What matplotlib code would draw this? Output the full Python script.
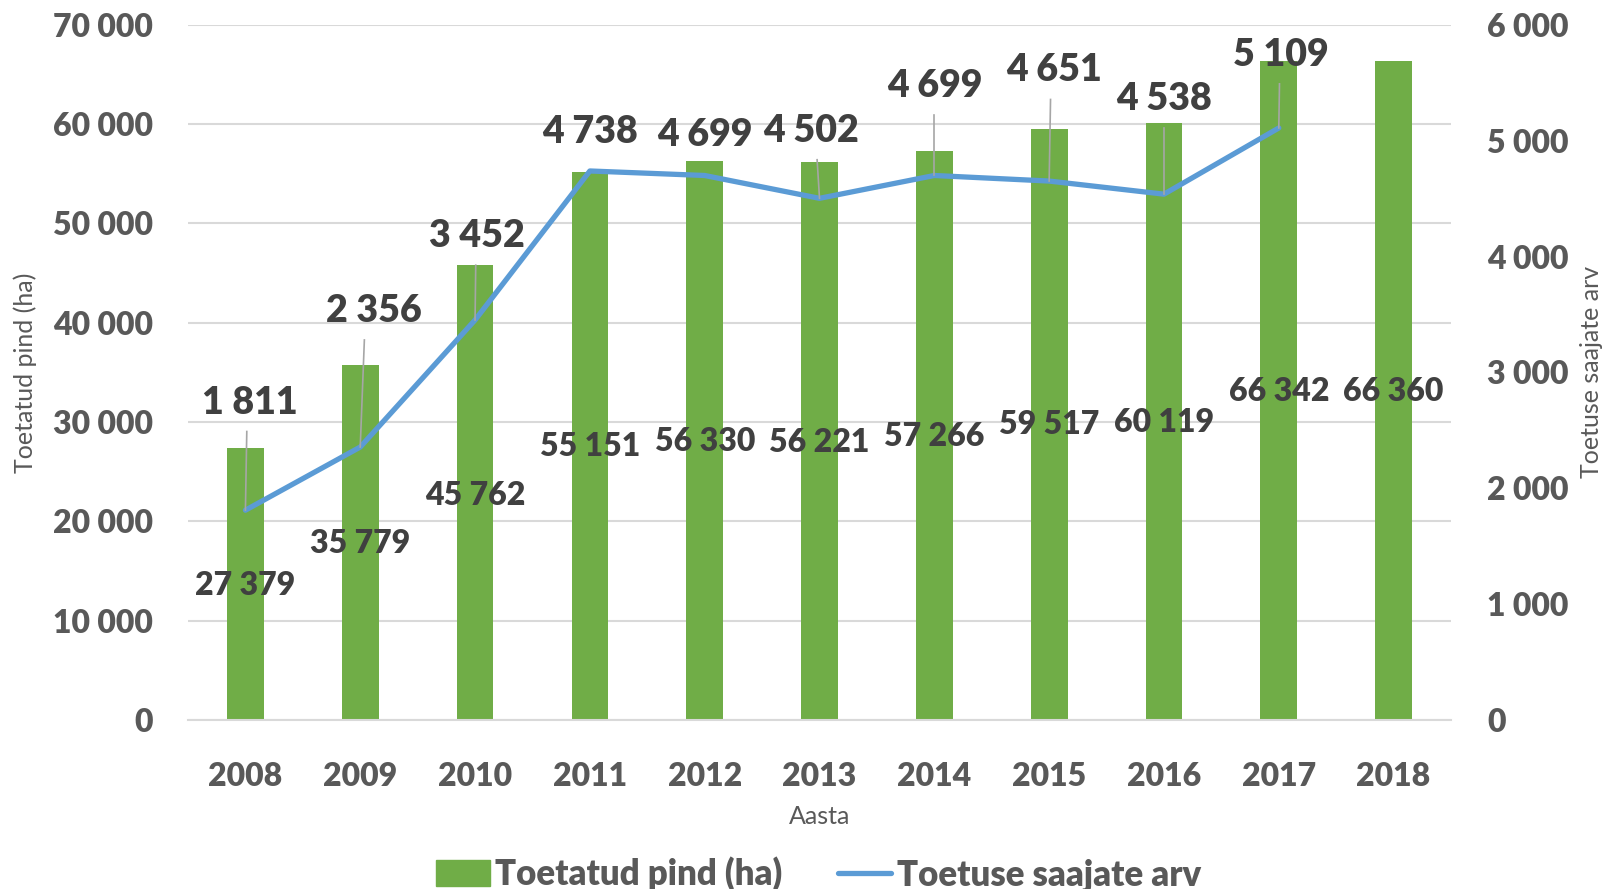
import numpy as np
import matplotlib
matplotlib.use("Agg")
import matplotlib.pyplot as plt
import matplotlib.ticker as mticker
from matplotlib.patches import Patch
from matplotlib.lines import Line2D

plt.rcParams['font.family'] = ['Lato', 'DejaVu Sans']

years = ['2008', '2009', '2010', '2011', '2012', '2013', '2014', '2015', '2016', '2017', '2018']
area = [27379, 35779, 45762, 55151, 56330, 56221, 57266, 59517, 60119, 66342, 66360]
recipients = [1811, 2356, 3452, 4738, 4699, 4502, 4699, 4651, 4538, 5109]

# where Excel put the labels (bar labels in ha, line labels in recipients)
bar_label_y = [13550, 17800, 22650, 27500, 28000, 27900, 28550, 29800, 30000, 33100, 33100]
line_label_xy = [(0.04, 2740), (0.12, 3530), (0.02, 4175), (0.0, 5070), (0.0, 5050),
                 (-0.07, 5085), (0.0, 5475), (0.04, 5605), (0.0, 5355), (0.02, 5740)]

green = '#70AD47'
blue = '#5B9BD5'
tick_col = '#595959'
lab_col = '#404040'
heavy = 'heavy'

def space_fmt(v, pos):
    return f'{int(round(v)):,}'.replace(',', ' ')

fig = plt.figure(figsize=(16.11, 8.89), dpi=100)
ax = fig.add_axes([0.1167, 0.19, 0.784, 0.7822])
ax2 = ax.twinx()

x = np.arange(len(years))
ax.bar(x, area, width=0.32, color=green, zorder=2)
ax.set_ylim(0, 70000)
ax.set_yticks(np.arange(0, 70001, 10000))
ax.yaxis.set_major_formatter(mticker.FuncFormatter(space_fmt))
ax.grid(axis='y', color='#D9D9D9', lw=1.5, zorder=0)
ax.set_axisbelow(True)
ax.set_xlim(-0.5, len(years) - 0.5)
ax.set_xticks(x)
ax.set_xticklabels(years)

for a in (ax, ax2):
    for s in a.spines.values():
        s.set_visible(False)
    a.tick_params(length=0, labelsize=23, labelcolor=tick_col)
    for t in a.get_yticklabels() + a.get_xticklabels():
        t.set_fontweight(heavy)
ax.spines['bottom'].set_visible(True)
ax.spines['bottom'].set_color('#D9D9D9')
ax.spines['bottom'].set_linewidth(1.5)
ax.tick_params(axis='y', pad=25)
ax.tick_params(axis='x', pad=30)

for xi, v, ly in zip(x, area, bar_label_y):
    ax.text(xi, ly, space_fmt(v, None), ha='center', va='center', fontsize=23,
            fontweight=heavy, color=lab_col, zorder=5)

xl = np.arange(len(recipients))
ax2.plot(xl, recipients, color=blue, lw=3.8, solid_capstyle='round', zorder=4)
ax2.set_ylim(0, 6000)
ax2.set_yticks(np.arange(0, 6001, 1000))
ax2.yaxis.set_major_formatter(mticker.FuncFormatter(space_fmt))
ax2.tick_params(axis='y', pad=26)
for t in ax2.get_yticklabels():
    t.set_fontweight(heavy)

for xi, v, (dx, ly) in zip(xl, recipients, line_label_xy):
    ax2.text(xi + dx, ly, space_fmt(v, None), ha='center', va='center', fontsize=27,
             fontweight=heavy, color=lab_col, zorder=6)
    top = ly - 250
    if top - v > 250:
        ax2.plot([xi + dx * 0.3, xi], [top, v], color='#A6A6A6', lw=1.2, zorder=5)

ax.set_xlabel('Aasta', fontsize=18, color=tick_col, labelpad=10)
ax.set_ylabel('Toetatud pind (ha)', fontsize=18, color=tick_col, labelpad=12)
ax2.set_ylabel('Toetuse saajate arv', fontsize=18, color=tick_col, labelpad=8)

handles = [Patch(color=green), Line2D([0], [0], color=blue, lw=3.8, solid_capstyle='round')]
fig.legend(handles, ['Toetatud pind (ha)', 'Toetuse saajate arv'], loc='lower center',
           bbox_to_anchor=(0.508, -0.038), ncol=2, frameon=False, handlelength=1.55,
           handleheight=0.75, handletextpad=0.15, columnspacing=1.6,
           prop={'size': 25, 'weight': heavy}, labelcolor=tick_col)

fig.savefig('out.png', dpi=100)
